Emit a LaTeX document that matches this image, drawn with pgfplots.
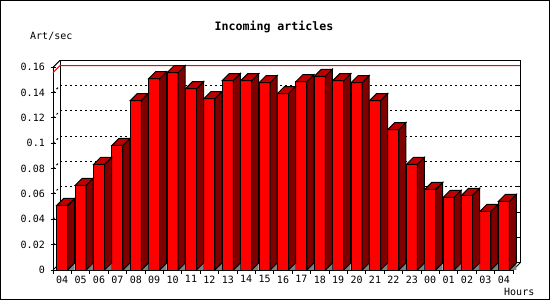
\documentclass[border=0pt]{standalone}
\usepackage{fontspec}
\setmainfont{DejaVu Sans Mono}
\usepackage{pgfplots}
\pgfplotsset{compat=1.18}
\usepackage{pgfplotstable}

\definecolor{barfront}{RGB}{255,0,0}
\definecolor{bartop}{RGB}{192,0,0}
\definecolor{barside}{RGB}{128,0,0}
\definecolor{shadowgray}{RGB}{128,128,128}

% hour slot (0..24, bar centre at slot+0.5) and articles per second
\pgfplotstableread{
x v
0.5 0.0510
1.5 0.0668
2.5 0.0833
3.5 0.0983
4.5 0.1337
5.5 0.1511
6.5 0.1558
7.5 0.1432
8.5 0.1353
9.5 0.1495
10.5 0.1495
11.5 0.1479
12.5 0.1393
13.5 0.1487
14.5 0.1529
15.5 0.1495
16.5 0.1479
17.5 0.1337
18.5 0.1109
19.5 0.0833
20.5 0.0636
21.5 0.0573
22.5 0.0589
23.5 0.0463
24.5 0.0541
}\datatable

% 3D faces (top, side, floor shadow) of a bar whose front top edge is at the data point
\pgfdeclareplotmark{bar3d}{%
  \pgfmathsetlengthmacro{\H}{\barv*1266.875bp}%
  \pgfsetlinewidth{1bp}%
  \pgfsetstrokecolor{black}%
  \pgfsetfillcolor{shadowgray}%
  \pgfpathmoveto{\pgfpoint{5.5bp}{-\H}}%
  \pgfpathlineto{\pgfpoint{12.5bp}{-\H}}%
  \pgfpathlineto{\pgfpoint{12.5bp}{7bp-\H}}%
  \pgfpathclose
  \pgfusepath{fill}%
  \pgfsetfillcolor{barside}%
  \pgfpathmoveto{\pgfpoint{5.5bp}{0bp}}%
  \pgfpathlineto{\pgfpoint{12.5bp}{7bp}}%
  \pgfpathlineto{\pgfpoint{12.5bp}{7bp-\H}}%
  \pgfpathlineto{\pgfpoint{5.5bp}{-\H}}%
  \pgfpathclose
  \pgfusepath{fill,stroke}%
  \pgfsetfillcolor{bartop}%
  \pgfpathmoveto{\pgfpoint{-5.5bp}{0bp}}%
  \pgfpathlineto{\pgfpoint{5.5bp}{0bp}}%
  \pgfpathlineto{\pgfpoint{12.5bp}{7bp}}%
  \pgfpathlineto{\pgfpoint{1.5bp}{7bp}}%
  \pgfpathclose
  \pgfusepath{fill,stroke}%
}

\begin{document}
\begin{tikzpicture}
\useasboundingbox (0,0) rectangle (550bp,300bp);
\fill[white] (0,0) rectangle (550bp,300bp);
\draw[line width=1bp] (0.5bp,0.5bp) rectangle (549.5bp,299.5bp);

\node[font=\fontsize{11.6bp}{13bp}\selectfont\bfseries] at (274bp,273.3bp) {Incoming articles};
\node[font=\fontsize{10bp}{12bp}\selectfont, anchor=west, inner sep=0pt] at (30bp,263.3bp) {Art/sec};
\node[font=\fontsize{10bp}{12bp}\selectfont, anchor=west, inner sep=0pt] at (504bp,8.3bp) {Hours};

\begin{axis}[
  at={(53bp,30bp)}, anchor=south west,
  scale only axis, width=460bp, height=202.7bp,
  xmin=0, xmax=25, ymin=0, ymax=0.16,
  enlargelimits=false, clip=false,
  axis lines=left,
  axis line style={-, line width=1bp, black},
  every tick/.style={black, line width=1bp},
  ytick={0,0.02,0.04,0.06,0.08,0.1,0.12,0.14,0.16},
  ytick align=center, major tick length=5bp,
  yticklabel style={/pgf/number format/fixed, /pgf/number format/precision=2,
    /pgf/number format/assume math mode=true,
    font=\fontsize{10bp}{12bp}\selectfont, inner sep=0pt, xshift=-5.5bp},
  xtick={0.5,1.5,...,24.5},
  xticklabels={04,05,06,07,08,09,10,11,12,13,14,15,16,17,18,19,20,21,22,23,00,01,02,03,04},
  xtick style={draw=none},
  xticklabel style={font=\fontsize{10bp}{12bp}\selectfont, inner sep=0pt, yshift=-3bp},
  ymajorgrids,
  y grid style={black, line width=1bp, dash pattern=on 2bp off 3bp, xshift=7bp, yshift=7bp},
]
% back plane and 3D frame
\draw[line width=1bp] ([shift={(7bp,7bp)}]axis cs:0,0) rectangle ([shift={(7bp,7bp)}]axis cs:25,0.16);
\draw[line width=1bp] (axis cs:0,0) -- ++(7bp,7bp);
\draw[line width=1bp] (axis cs:0,0.16) -- ++(7bp,7bp);
\draw[line width=1bp] (axis cs:25,0) -- ++(7bp,7bp);
\pgfplotsinvokeforeach{0.02,0.04,0.06,0.08,0.1,0.12,0.14}{
  \draw[line width=1bp, dash pattern=on 2bp off 3bp] (axis cs:0,#1) -- ++(7bp,7bp);
  \draw[line width=1bp] ([shift={(7bp,7bp)}]axis cs:25,#1) -- ++(-3bp,0);
}
\pgfplotsinvokeforeach{0,1,2,3,4,5,6,7,8,9,10,11,12,13,14,15,16,17,18,19,20,21,22,23,24,25}{
  \draw[line width=1bp] (axis cs:#1,0) -- ++(0,-4bp);
}
% maximum line (0.1558), drawn from the front plane onto the back plane (depth 7bp = 0.3804 x, 0.00553 y)
\addplot[red, line width=1bp] coordinates {(0,0.1558) (0.3804,0.16133) (25.3804,0.16133)};
% bar depth faces
\addplot[scatter, only marks, mark=bar3d,
  scatter/use mapped color={draw=black, fill=black},
  visualization depends on={\thisrow{v} \as \barv}]
  table[x=x, y=v] {\datatable};
% bar fronts
\addplot[ybar, bar width=11bp, bar shift=0pt, fill=barfront, draw=black, line width=1bp]
  table[x=x, y=v] {\datatable};
\end{axis}
\end{tikzpicture}
\end{document}
